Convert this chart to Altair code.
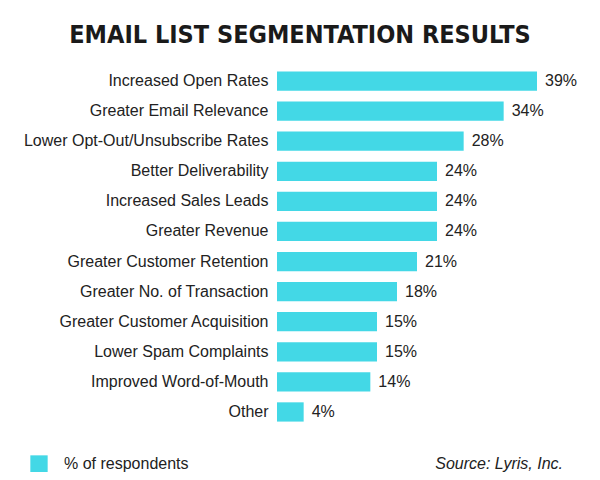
import altair as alt
import pandas as pd

categories = [
    "Increased Open Rates",
    "Greater Email Relevance",
    "Lower Opt-Out/Unsubscribe Rates",
    "Better Deliverability",
    "Increased Sales Leads",
    "Greater Revenue",
    "Greater Customer Retention",
    "Greater No. of Transaction",
    "Greater Customer Acquisition",
    "Lower Spam Complaints",
    "Improved Word-of-Mouth",
    "Other",
]
values = [39, 34, 28, 24, 24, 24, 21, 18, 15, 15, 14, 4]
series_name = "% of respondents"
title_text = "EMAIL LIST SEGMENTATION RESULTS"
source_text = "Source: Lyris, Inc."

df = pd.DataFrame({
    "category": categories,
    "value": values,
    "label": [f"{v}%" for v in values],
    "series": series_name,
})

BAR = "#43D8E6"
LABEL_FONT = "Liberation Sans, Arial, Helvetica, sans-serif"

y_enc = alt.Y(
    "category:N",
    sort=categories,
    scale=alt.Scale(paddingInner=0.36, paddingOuter=0.18),
    axis=alt.Axis(
        title=None, domain=False, ticks=False, labelPadding=9,
        labelFontSize=16, labelColor="#222222", labelFont=LABEL_FONT,
        labelLimit=400,
    ),
)
x_enc = alt.X("value:Q", scale=alt.Scale(domain=[0, 39], nice=False), axis=None)

base = alt.Chart(df)

bars = base.mark_bar(color=BAR).encode(
    x=x_enc,
    y=y_enc,
    color=alt.Color(
        "series:N",
        scale=alt.Scale(range=[BAR]),
        legend=alt.Legend(
            title=None, orient="none", legendX=-247, legendY=389,
            symbolType="square", symbolSize=300, symbolStrokeWidth=0,
            labelFontSize=16, labelFont=LABEL_FONT, labelColor="#222222",
            labelOffset=16,
        ),
    ),
)

labels = base.mark_text(
    align="left", baseline="middle", dx=8, fontSize=16,
    font=LABEL_FONT, color="#222222",
).encode(x=x_enc, y=y_enc, text="label:N")

title = alt.Chart(pd.DataFrame({"t": [title_text]})).mark_text(
    align="center", baseline="alphabetic", fontSize=25, fontWeight="bold",
    font="DejaVu Sans Condensed, Liberation Sans Narrow, DejaVu Sans",
    color="#1a1a1a",
).encode(x=alt.value(23), y=alt.value(-23), text="t:N")

source = alt.Chart(pd.DataFrame({"t": [source_text]})).mark_text(
    align="right", baseline="alphabetic", fontSize=16, fontStyle="italic",
    font=LABEL_FONT, color="#222222",
).encode(x=alt.value(286), y=alt.value(403), text="t:N")

chart = alt.layer(bars, labels, title, source).properties(
    width=260,
    height=361,
    background="white",
    autosize=alt.AutoSizeParams(type="none"),
    padding={"left": 269, "top": 58, "right": 55, "bottom": 45},
).configure_view(stroke=None)

chart.save("out.html", embed_options={"renderer": "svg", "actions": False})
